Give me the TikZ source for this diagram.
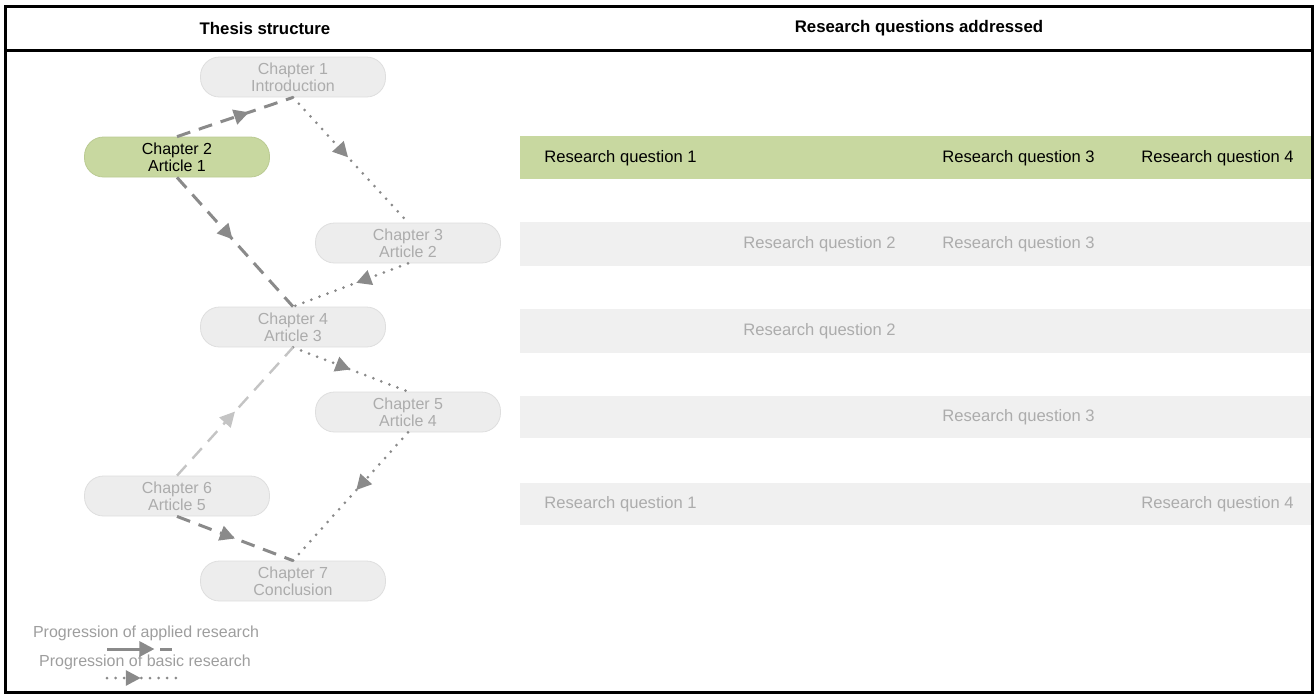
\documentclass[tikz,border=0pt]{standalone}
\usepackage{fontspec}
\setmainfont{Liberation Sans}
\usepackage{tikz}
\usetikzlibrary{arrows.meta,decorations.markings,positioning}

\definecolor{clrBorders}{rgb}{0,0,0}
\definecolor{clrGreen}{RGB}{200,216,160}
\definecolor{clrGreenBorder}{RGB}{186,202,146}
\definecolor{clrBand}{RGB}{240,240,240}
\definecolor{clrNode}{RGB}{237,237,237}
\definecolor{clrNodeBorder}{RGB}{222,222,222}
\definecolor{clrNodeText}{RGB}{172,172,172}
\definecolor{clrArrow}{RGB}{138,138,138}
\definecolor{clrArrowLight}{RGB}{196,196,196}
\definecolor{clrLegend}{RGB}{158,158,158}

\tikzstyle{head_style}=[inner sep=0pt, font=\fontsize{8.4}{10}\selectfont\bfseries]
\tikzstyle{chap_style}=[draw=clrNodeBorder, fill=clrNode, rounded corners=9.5pt,
anchor=center, align=center, inner sep=0pt, minimum width=92.5pt, minimum height=20pt,
text=clrNodeText, font=\fontsize{8}{8.6}\selectfont]
\tikzstyle{chap_on}=[chap_style, fill=clrGreen, draw=clrGreenBorder, text=black]
\tikzstyle{rq_text}=[anchor=west, inner sep=0pt, text=clrNodeText, font=\fontsize{8.3}{10}\selectfont]
\tikzstyle{rq_on}=[rq_text, text=black]
\tikzstyle{leg_text}=[inner sep=0pt, text=clrLegend, font=\fontsize{8}{10}\selectfont]
\tikzstyle{applied}=[draw=clrArrow, line width=1.5pt, dash pattern=on 7pt off 4.5pt]
\tikzstyle{basic}=[draw=clrArrow, line width=1.5pt, line cap=round, dash pattern=on 0pt off 4.3pt]
\tikzset{midtip/.style={postaction={decorate}, decoration={markings,
  mark=at position #1 with {\arrow{Triangle[length=7.5pt,width=7.5pt]}}}}}

\begin{document}
\begin{tikzpicture}[x=0.5pt, y=-0.5pt]
		\useasboundingbox (0,0) rectangle (1315,698);
		% frame and header
		\draw[clrBorders, line width=1.5pt] (5,6) rectangle (1312,692);
		\draw[clrBorders, line width=1.5pt] (5,50) -- (1312,50);
		\node[head_style] (hLeft) at (265,28) {Thesis structure};
		\node[head_style] (hRight) at (919,28) {Research questions addressed};

		% bands
		\fill[clrGreen] (520,136) rectangle (1311,179);
		\fill[clrBand] (520,222) rectangle (1311,266);
		\fill[clrBand] (520,309) rectangle (1311,353);
		\fill[clrBand] (520,396) rectangle (1311,438);
		\fill[clrBand] (520,483) rectangle (1311,525);

		\node[rq_on] (rqA1) at (544,158) {Research question 1};
		\node[rq_on] (rqA3) at (942,158) {Research question 3};
		\node[rq_on] (rqA4) at (1141,158) {Research question 4};
		\node[rq_text] (rqB2) at (743,244) {Research question 2};
		\node[rq_text] (rqB3) at (942,244) {Research question 3};
		\node[rq_text] (rqC2) at (743,331) {Research question 2};
		\node[rq_text] (rqD3) at (942,417) {Research question 3};
		\node[rq_text] (rqE1) at (544,504) {Research question 1};
		\node[rq_text] (rqE4) at (1141,504) {Research question 4};

		% chapters
		\node[chap_style] (ch1) at (293,77) {Chapter 1\\Introduction};
		\node[chap_on] (ch2) at (177,157) {Chapter 2\\Article 1};
		\node[chap_style] (ch3) at (408,243) {Chapter 3\\Article 2};
		\node[chap_style] (ch4) at (293,327) {Chapter 4\\Article 3};
		\node[chap_style] (ch5) at (408,412) {Chapter 5\\Article 4};
		\node[chap_style] (ch6) at (177,496) {Chapter 6\\Article 5};
		\node[chap_style] (ch7) at (293,581) {Chapter 7\\Conclusion};

		\draw[applied, midtip=0.62] (ch2.north) -- (ch1.south);
		\draw[basic, midtip=0.48] (ch1.south) -- (ch3.north);
		\draw[applied, midtip=0.48] (ch2.south) -- (ch4.north);
		\draw[basic, midtip=0.45] (ch3.south) -- (ch4.north);
		\draw[basic, midtip=0.5] (ch4.south) -- (ch5.north);
		\draw[applied, draw=clrArrowLight, line width=1.2pt, midtip=0.5] (ch6.north) -- (ch4.south);
		\draw[applied, midtip=0.5] (ch6.south) -- (ch7.north);
		\draw[basic, midtip=0.45] (ch5.south) -- (ch7.north);

		% legend
		\node[leg_text] (legA) at (146,633) {Progression of applied research};
		\node[leg_text] (legB) at (145,662) {Progression of basic research};
		\coordinate (legA1) at (107,649);
		\coordinate (legA2) at (180,649);
		\coordinate (legB1) at (107,678);
		\coordinate (legB2) at (182,678);
		\draw[applied, dash pattern=on 22pt off 4.5pt on 6pt, midtip=0.65] (legA1) -- (legA2);
		\draw[basic, midtip=0.45] (legB1) -- (legB2);
\end{tikzpicture}
\end{document}
